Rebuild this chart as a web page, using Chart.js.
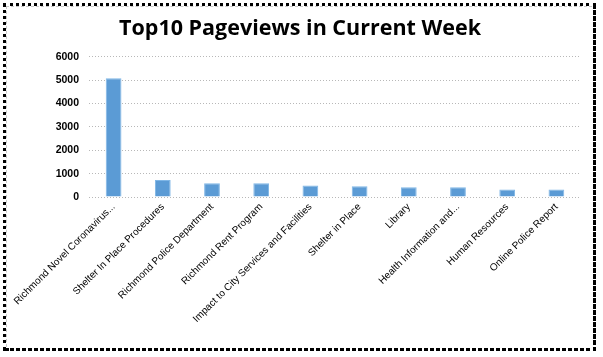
<!DOCTYPE html>
<html>
<head>
<meta charset="utf-8">
<script src="https://cdn.jsdelivr.net/npm/chart.js@4/dist/chart.umd.min.js"></script>
<style>
html,body{margin:0;padding:0;background:#fff;}
#wrap{position:absolute;left:0;top:0;width:603px;height:357px;}
#frame{position:absolute;left:3px;top:3px;width:587px;height:342px;border:3px dotted #000;}
#shadow{position:absolute;left:6px;top:6px;width:587px;height:342px;border-right:3px dotted #000;border-bottom:3px dotted #000;}
#inner{position:absolute;left:6px;top:6px;width:585px;height:340px;border-top:1px dashed #c8c8c8;border-left:1px dashed #c8c8c8;}
canvas{position:absolute;left:0;top:0;}
</style>
</head>
<body>
<div id="wrap">
<div id="shadow"></div>
<div id="frame"></div>
<div id="inner"></div>
<canvas id="c" width="603" height="357"></canvas>
</div>
<script>
const categories = [
  "Richmond Novel Coronavirus...",
  "Shelter In Place Procedures",
  "Richmond Police Department",
  "Richmond Rent Program",
  "Impact to City Services and Facilities",
  "Shelter in Place",
  "Library",
  "Health Information and...",
  "Human Resources",
  "Online Police Report"
];
const pageviews = [5080, 730, 590, 590, 490, 465, 422, 420, 325, 320];
const yTicks = [0, 1000, 2000, 3000, 4000, 5000, 6000];
const titleText = "Top10 Pageviews in Current Week";

new Chart(document.getElementById('c'), {
  type: 'bar',
  data: {
    labels: categories,
    datasets: [{
      data: pageviews,
      backgroundColor: '#5b9bd5',
      borderColor: '#7fb6e6',
      borderWidth: 1,
      barPercentage: 0.32,
      categoryPercentage: 1.0
    }]
  },
  options: {
    responsive: false,
    animation: false,
    devicePixelRatio: 1,
    layout: { padding: { left: 19, right: 22, top: 0, bottom: 8 } },
    plugins: {
      legend: { display: false },
      tooltip: { enabled: false },
      title: {
        display: true,
        text: titleText,
        color: '#000',
        font: { family: 'Open Sans', size: 21.5, weight: 'bold', lineHeight: 1.2 },
        padding: { top: 16, bottom: 15 }
      }
    },
    scales: {
      x: {
        afterFit: (s) => { s.height = 152; },
        grid: { display: false, drawTicks: false },
        border: { display: false },
        ticks: {
          minRotation: 45, maxRotation: 45, autoSkip: false,
          color: '#000', padding: 4,
          font: { family: 'Liberation Sans', size: 10 }
        }
      },
      y: {
        min: 0, max: 6000,
        afterFit: (s) => { s.width = 70; },
        afterBuildTicks: (s) => { s.ticks = yTicks.map(v => ({ value: v })); },
        grid: { color: '#b8b8b8', drawTicks: false, lineWidth: 1 },
        border: { display: false, dash: [1, 2] },
        ticks: {
          color: '#000', padding: 10,
          callback: (v) => String(v),
          font: { family: 'Liberation Sans', size: 10.5, weight: 'bold' }
        }
      }
    }
  }
});
</script>
</body>
</html>
